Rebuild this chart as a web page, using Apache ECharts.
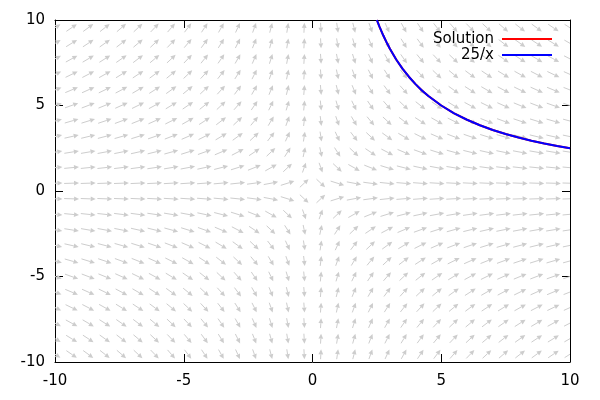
<!DOCTYPE html>
<html>
<head>
<meta charset="utf-8">
<script src="https://cdn.jsdelivr.net/npm/echarts@6/dist/echarts.min.js"></script>
<style>html,body{margin:0;padding:0;background:#fff}#c{width:600px;height:400px}</style>
</head>
<body>
<div id="c"></div>
<script>
// Tick labels
const xTicks = [-10, -5, 0, 5, 10];
const yTicks = [-10, -5, 0, 5, 10];
// Vector-field grid (arrow centres)
const xGrid = [-10, -9.355, -8.710, -8.065, -7.419, -6.774, -6.129, -5.484, -4.839, -4.194,
  -3.548, -2.903, -2.258, -1.613, -0.968, -0.323, 0.323, 0.968, 1.613, 2.258, 2.903, 3.548,
  4.194, 4.839, 5.484, 6.129, 6.774, 7.419, 8.065, 8.710, 9.355, 10];
const yGrid = [-9.545, -8.636, -7.727, -6.818, -5.909, -5.000, -4.091, -3.182, -2.273, -1.364,
  -0.455, 0.455, 1.364, 2.273, 3.182, 4.091, 5.000, 5.909, 6.818, 7.727, 8.636, 9.545];
// ODE: dy/dx = -y/x
function slope(x, y) { return -y / x; }
// Curve 25/x (Solution and 25/x coincide)
const curveX = [2.5, 2.6, 2.75, 2.9, 3, 3.25, 3.5, 3.75, 4, 4.25, 4.5, 5, 5.5, 6, 6.5, 7, 7.5, 8, 8.5, 9, 9.5, 10];
const curveY = [10, 9.615, 9.091, 8.621, 8.333, 7.692, 7.143, 6.667, 6.25, 5.882, 5.556, 5, 4.545, 4.167, 3.846, 3.571, 3.333, 3.125, 2.941, 2.778, 2.632, 2.5];
const seriesNames = ['Solution', '25/x'];

const ARROW_LEN = 0.58;
const arrows = [];
for (const x of xGrid) {
  for (const y of yGrid) {
    const m = slope(x, y);
    const dx = ARROW_LEN / Math.sqrt(1 + m * m);
    const dy = m * dx;
    arrows.push([x - dx / 2, y - dy / 2, x + dx / 2, y + dy / 2]);
  }
}
const curve = curveX.map((x, i) => [x, curveY[i]]);

const GRAY = '#cdcdcd';
function renderArrow(params, api) {
  const p0 = api.coord([api.value(0), api.value(1)]);
  const p1 = api.coord([api.value(2), api.value(3)]);
  const ang = Math.atan2(p1[1] - p0[1], p1[0] - p0[0]);
  const hl = 5, hw = 2.4;
  const c = Math.cos(ang), s = Math.sin(ang);
  const bx = p1[0] - hl * c, by = p1[1] - hl * s;
  return {
    type: 'group',
    children: [
      { type: 'line', shape: { x1: p0[0], y1: p0[1], x2: bx, y2: by }, style: { stroke: GRAY, lineWidth: 1 } },
      { type: 'polygon', shape: { points: [[p1[0], p1[1]], [bx - hw * s, by + hw * c], [bx + hw * s, by - hw * c]] }, style: { fill: GRAY } }
    ]
  };
}

const font = 'DejaVu Sans';
const axisCommon = {
  type: 'value', min: -10, max: 10, interval: 5,
  splitLine: { show: false },
  axisLine: { show: true, onZero: false, lineStyle: { color: '#000', width: 1 } },
  axisTick: { show: true, inside: true, length: 8, lineStyle: { color: '#000' } }
};
const chart = echarts.init(document.getElementById('c'), null, { renderer: 'canvas' });
chart.setOption({
  animation: false,
  backgroundColor: '#fff',
  grid: { left: 55, right: 30, top: 20, bottom: 38 },
  xAxis: [
    Object.assign({}, axisCommon, { position: 'bottom',
      axisLabel: { show: true, margin: 12, color: '#000', fontFamily: font, fontSize: 15,
        formatter: v => xTicks.includes(v) ? String(v) : '' } }),
    Object.assign({}, axisCommon, { position: 'top', axisLabel: { show: false } })
  ],
  yAxis: [
    Object.assign({}, axisCommon, { position: 'left',
      axisLabel: { show: true, margin: 10, color: '#000', fontFamily: font, fontSize: 15,
        formatter: v => yTicks.includes(v) ? String(v) : '' } }),
    Object.assign({}, axisCommon, { position: 'right', axisLabel: { show: false } })
  ],
  legend: {
    data: seriesNames,
    orient: 'vertical',
    right: 43, top: 26,
    align: 'right',
    icon: 'rect',
    itemWidth: 50, itemHeight: 2, itemGap: 0,
    selectedMode: false,
    formatter: '{a|{name}}',
    textStyle: {
      color: '#000', fontFamily: font, fontSize: 15, lineHeight: 16,
      rich: { a: { width: 64, height: 16, lineHeight: 16, align: 'right', fontFamily: font, fontSize: 15, color: '#000', padding: [0, 3, 0, 0] } }
    }
  },
  series: [
    {
      type: 'custom', name: 'field', silent: true, clip: true,
      renderItem: renderArrow,
      encode: { x: [0, 2], y: [1, 3] },
      data: arrows, z: 1
    },
    {
      type: 'line', name: seriesNames[0], data: curve, symbol: 'none', showSymbol: false,
      lineStyle: { color: '#ff0000', width: 2 }, itemStyle: { color: '#ff0000' }, z: 2, silent: true
    },
    {
      type: 'line', name: seriesNames[1], data: curve, symbol: 'none', showSymbol: false,
      lineStyle: { color: '#0000ff', width: 2 }, itemStyle: { color: '#0000ff' }, z: 3, silent: true
    }
  ]
});
</script>
</body>
</html>
